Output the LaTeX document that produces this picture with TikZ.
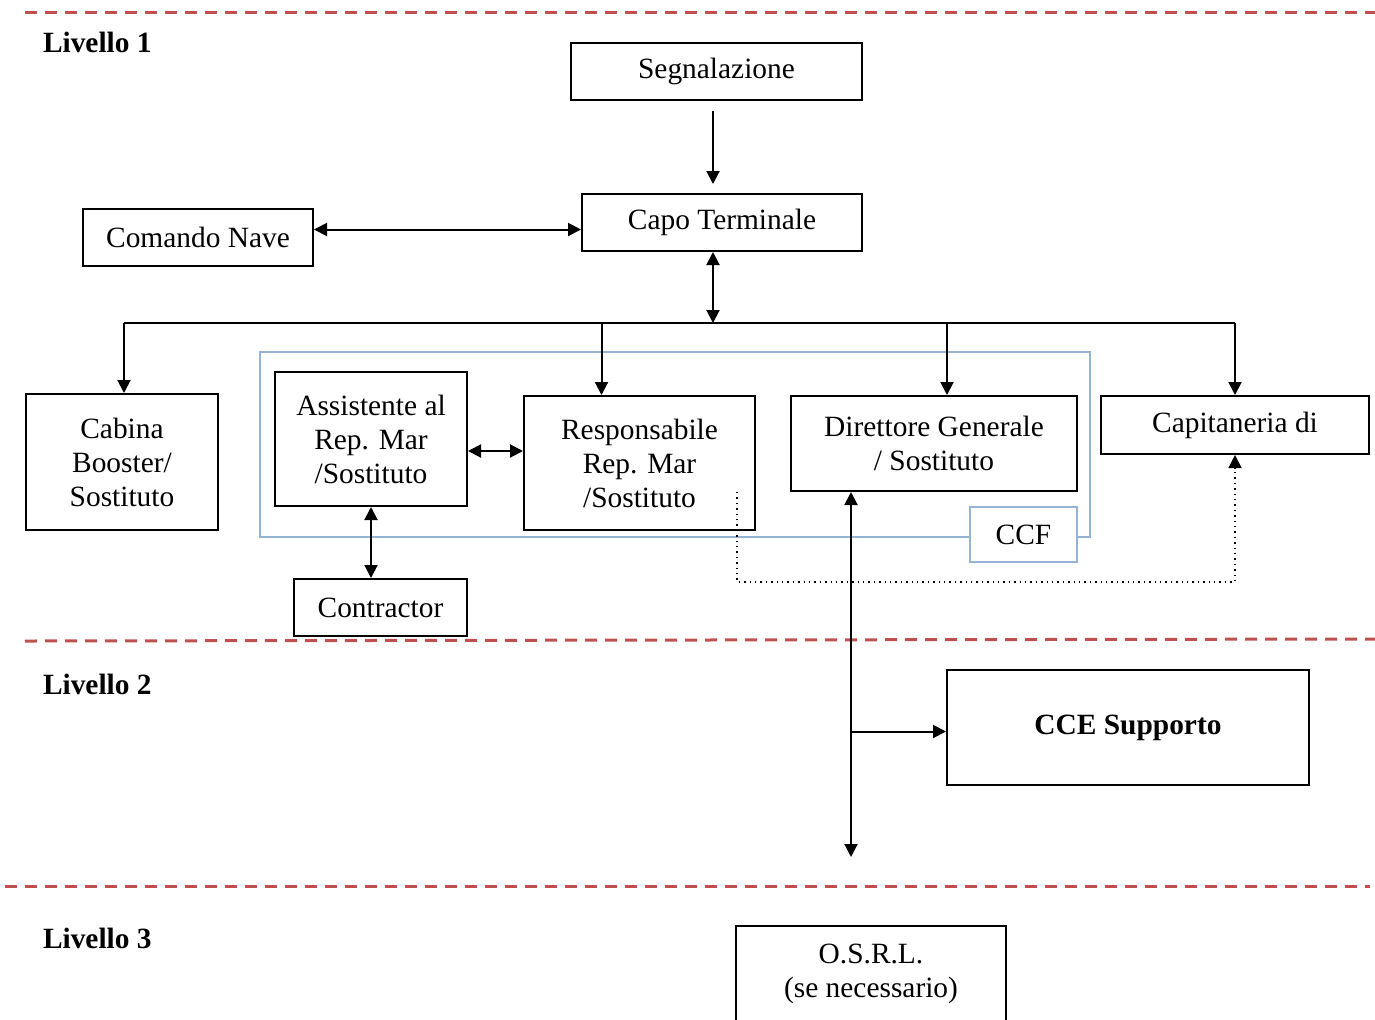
\documentclass[tikz,border=0pt]{standalone}
\usepackage{fontspec}
\setmainfont{Liberation Serif}
\usetikzlibrary{arrows.meta}
\definecolor{sepred}{RGB}{192,80,77}
\definecolor{ccfblue}{RGB}{149,179,215}

\begin{document}
\begin{tikzpicture}[x=0.5pt, y=-0.5pt, line width=1pt,
    box/.style={draw, inner sep=0pt, align=center, font=\fontsize{14.7}{17}\selectfont},
    arr/.style={-{Triangle[length=6.5pt, width=6.5pt]}},
    dbl/.style={{Triangle[length=6.5pt, width=6.5pt]}-{Triangle[length=6.5pt, width=6.5pt]}},
    sep/.style={sepred, dash pattern=on 6pt off 4pt, line width=1.5pt},
    lvl/.style={anchor=west, inner sep=0pt, font=\fontsize{14.7}{17}\selectfont\bfseries}]
    \path[use as bounding box, clip] (0,0) rectangle (1375,1019);

    % level separators
    \draw[sep] (25,12) -- (1375,12);
    \draw[sep] (25,641) -- (1375,639);
    \draw[sep] (5,886) -- (1370,886);
    \node[lvl] (l1) at (42,42) {Livello 1};
    \node[lvl] (l2) at (42,684) {Livello 2};
    \node[lvl] (l3) at (42,938) {Livello 3};

    % level 1
    \node[box, minimum width=145.5pt, minimum height=28.5pt] at (716.5,71.5) (seg) {Segnalazione};
    \node[box, minimum width=140pt, minimum height=28.5pt] at (722,222.5) (cap) {Capo Terminale};
    \node[box, minimum width=115pt, minimum height=28.5pt] at (198,237.5) (cmd) {Comando Nave};
    \coordinate (hub) at (713,323);

    \node[draw=ccfblue, line width=1.2pt, minimum width=415pt, minimum height=92.5pt] at (675,444.5) (grp) {};
    \node[box, minimum width=96pt, minimum height=68pt] at (122,462) (cab) {Cabina\\Booster/\\Sostituto};
    \node[box, minimum width=96pt, minimum height=67pt] at (371,439) (ast) {Assistente al\\Rep. Mar\\/Sostituto};
    \node[box, minimum width=115.5pt, minimum height=67pt] at (639.5,463) (resp) {Responsabile\\Rep. Mar\\/Sostituto};
    \node[box, minimum width=143pt, minimum height=47.5pt] at (934,443.5) (dir) {Direttore Generale\\/ Sostituto};
    \node[box, minimum width=134pt, minimum height=29pt] at (1235,425) (capi) {Capitaneria di};
    \node[box, draw=ccfblue, line width=1.2pt, fill=white, minimum width=53.5pt, minimum height=27.5pt] at (1023.5,534.5) (ccf) {CCF};
    \node[box, minimum width=86.5pt, minimum height=28.5pt] at (380.5,607.5) (con) {Contractor};

    \draw[arr, shorten <=5pt, shorten >=4.5pt] (seg.south -| hub) -- (cap.north -| hub);
    \draw[dbl] ([yshift=4pt]cmd.east) -- ([yshift=4pt]cmd.east -| cap.west);
    \draw[dbl] (cap.south -| hub) -- (hub);

    \coordinate (cabtop) at ([xshift=1pt]cab.north);
    \coordinate (resptop) at ([xshift=-19pt]resp.north);
    \coordinate (dirtop) at ([xshift=6.5pt]dir.north);
    \draw (cabtop |- hub) -- (capi.north |- hub);
    \draw[arr] (cabtop |- hub) -- (cabtop);
    \draw[arr] (resptop |- hub) -- (resptop);
    \draw[arr] (dirtop |- hub) -- (dirtop);
    \draw[arr] (capi.north |- hub) -- (capi.north);

    \draw[dbl] ([yshift=-6pt]ast.east) -- ([yshift=-6pt]ast.east -| resp.west);
    \draw[dbl] (ast.south) -- (ast.south |- con.north);
    \draw[arr, dotted, line width=0.7pt] ([xshift=-9.5pt,yshift=19.5pt]resp.south east) |- ([yshift=-63.5pt]capi.south) -- (capi.south);

    % level 2
    \node[box, font=\fontsize{14.7}{17}\selectfont\bfseries, minimum width=181pt, minimum height=57.5pt] at (1128,727.5) (cce) {CCE Supporto};
    \coordinate (lvlend) at (851,857);
    \draw[dbl] (lvlend |- dir.south) -- (lvlend);
    \draw[arr] ([yshift=-2pt]cce.west -| lvlend) -- ([yshift=-2pt]cce.west);

    % level 3
    \node[box, inner xsep=0pt, inner ysep=9pt, minimum width=135pt, anchor=north] at (871,925) (osrl) {O.S.R.L.\\(se necessario)\\~\\~};

\end{tikzpicture}
\end{document}
